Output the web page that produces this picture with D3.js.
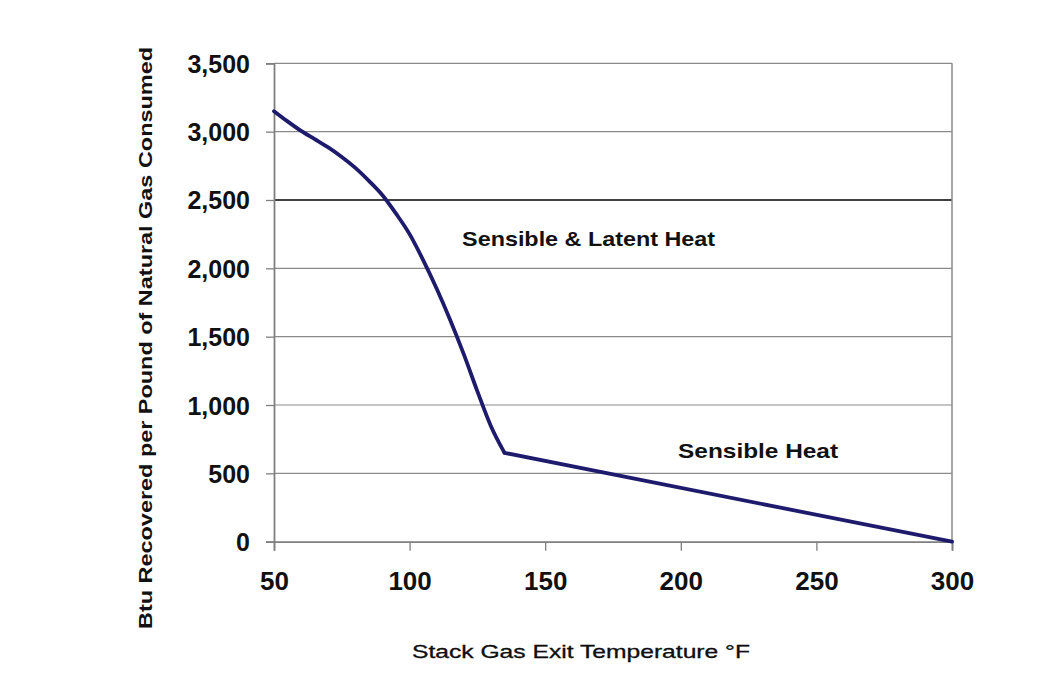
<!DOCTYPE html>
<html>
<head>
<meta charset="utf-8">
<script src="https://cdn.jsdelivr.net/npm/d3@7"></script>
<style>
  html, body { margin: 0; padding: 0; background: #fff; }
  svg { display: block; }
  text { font-family: "Liberation Sans", Arial, sans-serif; fill: #111; }
</style>
</head>
<body>
<svg id="chart" width="1063" height="684"></svg>
<script>
// ---- data ----
const temps = [50, 55, 60, 65, 70, 75, 80, 85, 90, 95, 100, 105, 110, 115, 120, 125, 130, 135, 300];
const btu   = [3150, 3075, 3005, 2945, 2885, 2815, 2735, 2640, 2535, 2400, 2250, 2060, 1850, 1620, 1370, 1100, 845, 650, 0];
const xTicks = [50, 100, 150, 200, 250, 300];
const yTicks = [0, 500, 1000, 1500, 2000, 2500, 3000, 3500];
const xTitle = "Stack Gas Exit Temperature \u00B0F";
const yTitle = "Btu Recovered per Pound of Natural Gas Consumed";
const annotations = [
  { text: "Sensible & Latent Heat", t: 166, v: 2160 },
  { text: "Sensible Heat", t: 228.5, v: 615 }
];
const breakTemp = 135; // latent-heat region ends here (curve), straight line after

// ---- layout ----
const svg = d3.select("#chart");
const x = d3.scaleLinear().domain([50, 300]).range([274, 952]);
const y = d3.scaleLinear().domain([0, 3500]).range([541.7, 63.3]);
const fmt = d3.format(",");

// gridlines
svg.append("g").selectAll("line")
  .data(yTicks.filter(d => d > 0))
  .join("line")
  .attr("x1", x(50)).attr("x2", x(300))
  .attr("y1", d => y(d)).attr("y2", d => y(d))
  .attr("stroke", d => d === 2500 ? "#000" : "#8a8a8a")
  .attr("stroke-width", d => d === 2500 ? 1.3 : 1.2);

// right border
svg.append("line")
  .attr("x1", x(300)).attr("x2", x(300))
  .attr("y1", y(3500)).attr("y2", y(0))
  .attr("stroke", "#8a8a8a").attr("stroke-width", 1.5);

// y axis
const yAxis = svg.append("g")
  .attr("transform", `translate(${x(50)},0)`)
  .call(d3.axisLeft(y).tickValues(yTicks).tickFormat(fmt).tickSize(8).tickPadding(16));
yAxis.select(".domain").attr("stroke", "#7f7f7f").attr("stroke-width", 1.8);
yAxis.selectAll(".tick line").attr("stroke", "#7f7f7f").attr("stroke-width", 1.3);
yAxis.selectAll(".tick text")
  .attr("font-size", 25).attr("font-weight", "bold")
  .attr("font-family", "'Liberation Sans', Arial, sans-serif")
  .attr("fill", "#111").attr("dy", "0.36em");

// x axis
const xAxis = svg.append("g")
  .attr("transform", `translate(0,${y(0)})`)
  .call(d3.axisBottom(x).tickValues(xTicks).tickSize(9).tickPadding(21));
xAxis.select(".domain").attr("stroke", "#7f7f7f").attr("stroke-width", 1.8);
xAxis.selectAll(".tick line").attr("stroke", "#7f7f7f").attr("stroke-width", 1.3);
xAxis.selectAll(".tick text")
  .attr("font-size", 26).attr("font-weight", "bold")
  .attr("font-family", "'Liberation Sans', Arial, sans-serif")
  .attr("fill", "#111");

// data line: smooth curve through latent region, straight segment after the break
const pts = temps.map((t, i) => [t, btu[i]]);
const curvePts = pts.filter(d => d[0] <= breakTemp);
const straightPts = pts.filter(d => d[0] >= breakTemp);
const lineStyle = sel => sel
  .attr("fill", "none")
  .attr("stroke", "#1e1b6c")
  .attr("stroke-width", 3.8)
  .attr("stroke-linejoin", "round")
  .attr("stroke-linecap", "round");
svg.append("path").datum(curvePts).call(lineStyle)
  .attr("d", d3.line().x(d => x(d[0])).y(d => y(d[1])).curve(d3.curveMonotoneX));
svg.append("path").datum(straightPts).call(lineStyle)
  .attr("d", d3.line().x(d => x(d[0])).y(d => y(d[1])));

// annotations
svg.append("g").selectAll("text")
  .data(annotations)
  .join("text")
  .attr("x", d => x(d.t)).attr("y", d => y(d.v))
  .attr("text-anchor", "middle")
  .attr("font-size", 21).attr("font-weight", "bold")
  .attr("textLength", d => d.text.length > 15 ? 253 : 160)
  .attr("lengthAdjust", "spacingAndGlyphs")
  .text(d => d.text);

// axis titles
svg.append("text")
  .attr("x", 581).attr("y", 658)
  .attr("text-anchor", "middle")
  .attr("font-size", 19)
  .attr("fill", "#000")
  .attr("stroke", "#000").attr("stroke-width", 0.3)
  .attr("textLength", 338).attr("lengthAdjust", "spacingAndGlyphs")
  .text(xTitle);

svg.append("text")
  .attr("transform", "translate(152,338) rotate(-90)")
  .attr("text-anchor", "middle")
  .attr("font-size", 19).attr("font-weight", "bold")
  .attr("textLength", 582).attr("lengthAdjust", "spacingAndGlyphs")
  .text(yTitle);
</script>
</body>
</html>
